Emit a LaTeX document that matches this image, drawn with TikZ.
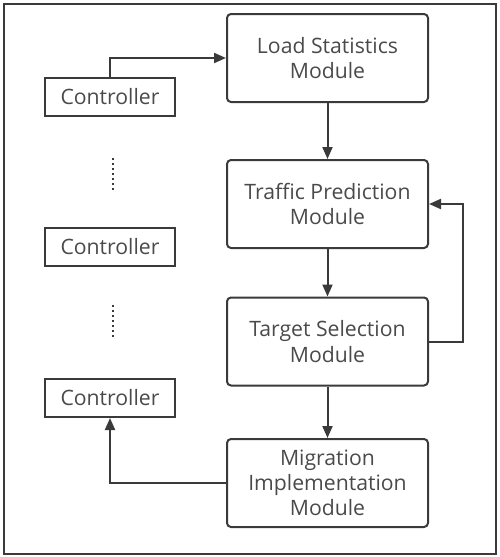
\documentclass[tikz,border=0pt]{standalone}
\usepackage{fontspec}
\setmainfont{Open Sans}
\usetikzlibrary{arrows.meta}

\definecolor{linec}{HTML}{3A3A3A}
\definecolor{textc}{HTML}{4A4A4A}

\begin{document}
\begin{tikzpicture}[x=0.5pt, y=-0.5pt,
    module/.style={draw=linec, line width=1pt, rounded corners=2pt, align=center,
      minimum width=100.5pt, minimum height=44pt, text=textc, inner sep=1pt,
      font=\fontsize{10.6}{12.6}\selectfont},
    ctrl/.style={draw=linec, line width=1pt, minimum width=65pt, minimum height=19pt,
      text=textc, inner sep=1pt, font=\fontsize{10.6}{12.6}\selectfont},
    arrow/.style={-{Triangle[length=6pt,width=5pt]}, line width=1pt, draw=linec},
    dots/.style={draw=linec, line width=1pt, dash pattern=on 0.9pt off 1.6pt}
  ]
    \useasboundingbox (0,0) rectangle (499,557);
    \draw[draw=linec, line width=1.1pt] (4,4) rectangle (496,554);

    % module chain
    \node[module] (load) at (327.5,58) {Load Statistics\\Module};
    \node[module] (traffic) at (327.5,204) {Traffic Prediction\\Module};
    \node[module] (target) at (327.5,341.5) {Target Selection\\Module};
    \node[module] (migr) at (327.5,483) {Migration\\Implementation\\Module};

    % controllers
    \node[ctrl] (ctrlA) at (110,97) {Controller};
    \node[ctrl] (ctrlB) at (110,247) {Controller};
    \node[ctrl] (ctrlC) at (110,398) {Controller};
    \draw[dots] (113,158) -- (113,192);
    \draw[dots] (113,305) -- (113,339);

    \draw[arrow] (ctrlA.north) |- (load.west);
    \draw[arrow] (load) -- (traffic);
    \draw[arrow] (traffic) -- (target);
    \draw[arrow] (target) -- (migr);
    \draw[arrow] (target.east) -- ++(34,0) |- (traffic.east);
    \draw[arrow] (migr.west) -| (ctrlC.south);
\end{tikzpicture}
\end{document}
